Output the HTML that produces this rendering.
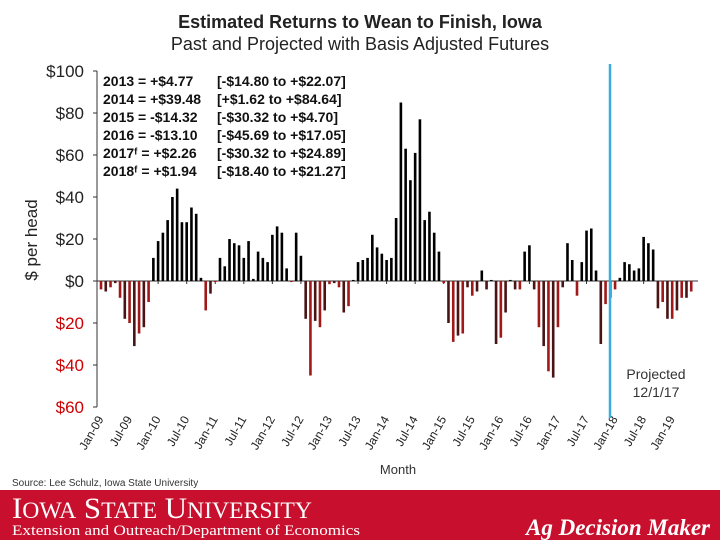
<!DOCTYPE html>
<html><head><meta charset="utf-8"><style>
body{margin:0;background:#fff;}
svg text{font-family:"Liberation Sans",Arial,sans-serif;}
</style></head><body>
<svg width="720" height="540" viewBox="0 0 720 540" xmlns="http://www.w3.org/2000/svg">
<text x="360" y="28" text-anchor="middle" font-size="18" font-weight="bold" fill="#222">Estimated Returns to Wean to Finish, Iowa</text>
<text x="360" y="50" text-anchor="middle" font-size="18" fill="#222">Past and Projected with Basis Adjusted Futures</text>
<g id="axes"></g>
<g id="bars"></g>
<line x1="610" y1="64" x2="610" y2="418" stroke="#3aaedb" stroke-width="2.5"/>
<text x="656" y="379" text-anchor="middle" font-size="14" fill="#333">Projected</text>
<text x="656" y="397" text-anchor="middle" font-size="14" fill="#333">12/1/17</text>
<g font-size="14" font-weight="bold" fill="#111">
<text x="103" y="86">2013 = +$4.77</text><text x="217" y="86">[-$14.80 to +$22.07]</text>
<text x="103" y="104">2014 = +$39.48</text><text x="217" y="104">[+$1.62 to +$84.64]</text>
<text x="103" y="122">2015 = -$14.32</text><text x="217" y="122">[-$30.32 to +$4.70]</text>
<text x="103" y="140">2016 = -$13.10</text><text x="217" y="140">[-$45.69 to +$17.05]</text>
<text x="103" y="158">2017ᶠ = +$2.26</text><text x="217" y="158">[-$30.32 to +$24.89]</text>
<text x="103" y="176">2018ᶠ = +$1.94</text><text x="217" y="176">[-$18.40 to +$21.27]</text>
</g>
<text transform="translate(37,240) rotate(-90)" text-anchor="middle" font-size="17" fill="#222">$ per head</text>
<text x="398" y="474" text-anchor="middle" font-size="13" fill="#333">Month</text>
<text x="12" y="486" font-size="10" fill="#333">Source: Lee Schulz, Iowa State University</text>
<rect x="0" y="490" width="720" height="50" fill="#c8102e"/>
<text x="12" y="518" font-size="30" fill="#fff" textLength="300" lengthAdjust="spacingAndGlyphs" style="font-family:'Liberation Serif',serif">I<tspan font-size="23">OWA</tspan> S<tspan font-size="23">TATE</tspan> U<tspan font-size="23">NIVERSITY</tspan></text>
<text x="12" y="535" font-size="15" fill="#fff" textLength="348" lengthAdjust="spacingAndGlyphs" style="font-family:'Liberation Serif',serif">Extension and Outreach/Department of Economics</text>
<text x="710" y="535" text-anchor="end" font-size="23" font-style="italic" font-weight="bold" fill="#fff" style="font-family:'Liberation Serif',serif">Ag Decision Maker</text>
</svg>
<script>
const values=[-4,-5,-3,-1,-8,-18,-20,-31,-25,-22,-10,11,19,23,29,40,44,28,28,35,32,1.5,-14,-6,-0.5,11,7,20,18,17,11,19,1,14,11,9,22,26,23,6,-0.5,23,12,-18,-45,-19,-22,-14,-1.5,-1,-3,-15,-12,0.5,9,10,11,22,16,13,10,11,30,85,63,48,61,77,29,33,23,14,-1,-20,-29,-26,-25,-3,-7,-5,5,-4,0.5,-30,-27,-15,0.5,-4,-4,14,17,-4,-22,-31,-43,-46,-22,-3,18,10,-7,9,24,25,5,-30,-11,-8,-4,1.5,9,8,5,6,21,18,15,-13,-10,-18,-18,-14,-8,-8,-5];
const yTicks=[100,80,60,40,20,0,-20,-40,-60];
const xLabels=["Jan-09","Jul-09","Jan-10","Jul-10","Jan-11","Jul-11","Jan-12","Jul-12","Jan-13","Jul-13","Jan-14","Jul-14","Jan-15","Jul-15","Jan-16","Jul-16","Jan-17","Jul-17","Jan-18","Jul-18","Jan-19"];
const NS="http://www.w3.org/2000/svg";
const y=v=>281-v*2.1;
const x=i=>101+i*4.76;
const axes=document.getElementById('axes'),bars=document.getElementById('bars');
function mk(t,a,p){const e=document.createElementNS(NS,t);for(const k in a)e.setAttribute(k,a[k]);p.appendChild(e);return e;}
const ax=mk('line',{x1:97,y1:y(100),x2:97,y2:y(-60),stroke:'#333','stroke-width':1},axes);


const zl=mk('line',{x1:97,y1:y(0),x2:698,y2:y(0),stroke:'#333','stroke-width':1},axes);


yTicks.forEach(v=>{
 mk('line',{x1:93,y1:y(v),x2:97,y2:y(v),stroke:'#333'},axes);
 const t=mk('text',{x:84,y:y(v)+6,'text-anchor':'end','font-size':17,fill:v<0?'#c00':'#222'},axes);
 t.textContent='$'+Math.abs(v);
 
 
});
xLabels.forEach((l,k)=>{
 const xx=x(k*6);
 mk('line',{x1:xx,y1:y(0),x2:xx,y2:y(0)+3,stroke:'#333'},axes);
 const t=mk('text',{transform:`translate(${xx+3},${419}) rotate(-60)`,'text-anchor':'end','font-size':12,fill:'#222'},axes);
 t.textContent=l;
 
 
});
values.forEach((v,i)=>{
 const r=mk('rect',{x:x(i)-1.3,y:Math.min(y(v),y(0)),width:2.6,height:Math.abs(y(v)-y(0)),fill:v<0?(i%2?'#4a1414':'#a01818'):'#000'},bars);
 
 
});
</script>
</body></html>
